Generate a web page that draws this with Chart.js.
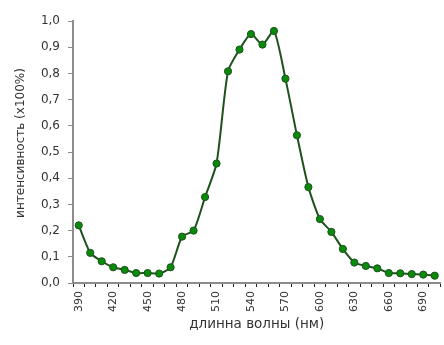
<!DOCTYPE html>
<html>
<head>
<meta charset="utf-8">
<script src="https://cdn.jsdelivr.net/npm/chart.js@4.4.1/dist/chart.umd.min.js"></script>
<style>
  html, body { margin: 0; padding: 0; background: #fff; overflow: hidden; }
  #spektr { display: block; }
</style>
</head>
<body>
<canvas id="spektr" width="452" height="345"></canvas>
<script>
// длины волн, нм (шаг 10)
const dliny = [390, 400, 410, 420, 430, 440, 450, 460, 470, 480, 490, 500, 510, 520, 530, 540,
               550, 560, 570, 580, 590, 600, 610, 620, 630, 640, 650, 660, 670, 680, 690, 700];
// интенсивность (x100%)
const intensivnost = [0.22, 0.115, 0.083, 0.06, 0.05, 0.038, 0.038, 0.036, 0.06, 0.177, 0.2, 0.328,
                      0.456, 0.808, 0.891, 0.95, 0.91, 0.962, 0.78, 0.564, 0.366, 0.244, 0.195, 0.13,
                      0.078, 0.065, 0.056, 0.038, 0.037, 0.034, 0.032, 0.028];
// подписи оси Y
const yPodpisi = ['0,0', '0,1', '0,2', '0,3', '0,4', '0,5', '0,6', '0,7', '0,8', '0,9', '1,0'];
const yZagolovok = 'интенсивность (x100%)';

const shrift = "'DejaVu Sans', sans-serif";
const osColor = '#8c8c8c';

// подпись оси Y рисуем сами, чуть выше середины
const yTitlePlugin = {
  id: 'yTitle',
  afterDraw(chart) {
    const ctx = chart.ctx;
    const area = chart.chartArea;
    ctx.save();
    ctx.translate(21, (area.top + area.bottom) / 2 - 9);
    ctx.rotate(-Math.PI / 2);
    ctx.font = '12px ' + shrift;
    ctx.fillStyle = '#333';
    ctx.textAlign = 'center';
    ctx.textBaseline = 'middle';
    ctx.fillText(yZagolovok, 0, 0);
    ctx.restore();
  }
};

const ctxSpektr = document.getElementById('spektr');
new Chart(ctxSpektr, {
  type: 'line',
  data: {
    labels: dliny,
    datasets: [{
      data: intensivnost,
      borderColor: '#1d521d',
      borderWidth: 2,
      tension: 0.22,
      pointRadius: 3.6,
      pointBorderWidth: 1,
      pointBackgroundColor: '#0a8a0a',
      pointBorderColor: '#1d521d',
      fill: false
    }]
  },
  options: {
    responsive: false,
    animation: false,
    layout: {
      padding: { top: 21, right: 0, bottom: 0, left: 0 }
    },
    plugins: {
      legend: { display: false },
      tooltip: { enabled: false }
    },
    scales: {
      x: {
        type: 'category',
        offset: true,
        afterFit: (scale) => { scale.height = 62; },
        grid: {
          offset: true,
          drawOnChartArea: false,
          color: '#222',
          tickLength: 4,
          tickWidth: 1
        },
        border: { color: osColor, width: 2 },
        ticks: {
          autoSkip: false,
          minRotation: 90,
          maxRotation: 90,
          padding: 4,
          color: '#333',
          font: { family: shrift, size: 11 },
          callback: function (val, i) {
            return i % 3 === 0 ? String(dliny[i]) : '';
          }
        },
        title: {
          display: true,
          text: 'длинна волны (нм)',
          color: '#333',
          font: { family: shrift, size: 13.5 },
          padding: { top: 0, bottom: 12 }
        }
      },
      y: {
        min: 0,
        max: 1,
        afterFit: (scale) => { scale.width = 73; },
        afterBuildTicks: (scale) => {
          scale.ticks = yPodpisi.map((t) => ({ value: parseFloat(t.replace(',', '.')) }));
        },
        grid: {
          drawOnChartArea: false,
          color: osColor,
          tickLength: 5
        },
        border: { color: osColor, width: 2 },
        ticks: {
          padding: 8,
          color: '#333',
          font: { family: shrift, size: 12 },
          callback: function (val, i) { return yPodpisi[i]; }
        },
        title: { display: false }
      }
    }
  },
  plugins: [yTitlePlugin]
});
</script>
</body>
</html>
